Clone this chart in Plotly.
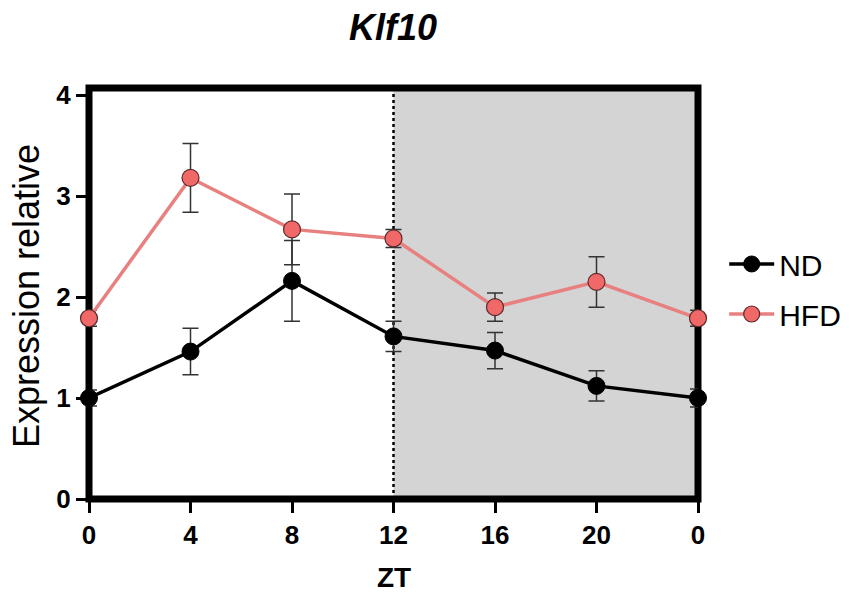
import plotly.graph_objects as go

# ZT time points (last one is ZT24 shown as "0")
zt = [0, 4, 8, 12, 16, 20, 24]
tick_labels = ["0", "4", "8", "12", "16", "20", "0"]

nd_mean = [1.00, 1.46, 2.16, 1.61, 1.47, 1.12, 1.00]
nd_err = [0.08, 0.23, 0.40, 0.15, 0.18, 0.15, 0.09]

hfd_mean = [1.79, 3.18, 2.67, 2.58, 1.90, 2.15, 1.79]
hfd_err = [0.08, 0.34, 0.35, 0.09, 0.14, 0.25, 0.08]

FONT = "Liberation Sans, Arial, sans-serif"

fig = go.Figure()

# dark phase shading, dotted line at ZT12 and the thick frame
fig.add_shape(type="rect", xref="x", yref="paper", x0=12, x1=24, y0=0, y1=1,
              fillcolor="#d4d4d4", line_width=0, layer="below")
fig.add_shape(type="line", xref="x", yref="paper", x0=12, x1=12, y0=0, y1=1,
              line=dict(color="black", width=2.5, dash="dot"), layer="below")
fig.add_shape(type="rect", xref="paper", yref="paper", x0=0, x1=1, y0=0, y1=1,
              line=dict(color="black", width=7), fillcolor="rgba(0,0,0,0)", layer="below")

fig.add_trace(go.Scatter(
    x=zt, y=nd_mean, name="ND", mode="lines+markers", legendgroup="nd",
    line=dict(color="black", width=3.5),
    marker=dict(size=17, color="black", line=dict(color="black", width=1)),
    error_y=dict(type="data", array=nd_err, color="#333333", thickness=1.5, width=8),
    cliponaxis=False,
))
fig.add_trace(go.Scatter(
    x=zt, y=hfd_mean, name="HFD", mode="lines+markers", legendgroup="hfd",
    line=dict(color="#e88080", width=3.5),
    marker=dict(size=17, color="#f06868", line=dict(color="#5a2a2a", width=1.2)),
    error_y=dict(type="data", array=hfd_err, color="#333333", thickness=1.5, width=8),
    cliponaxis=False,
))

# axis titles placed as annotations for exact positioning
fig.add_annotation(text="Expression relative", xref="paper", yref="paper",
                   x=(26 - 89) / 609, y=(499 - 296) / 411, textangle=-90,
                   showarrow=False, xanchor="center", yanchor="middle",
                   font=dict(family=FONT, size=36, color="black"))
fig.add_annotation(text="<b>ZT</b>", xref="paper", yref="paper",
                   x=0.5, y=(499 - 577) / 411,
                   showarrow=False, xanchor="center", yanchor="middle",
                   font=dict(family=FONT, size=28, color="black"))

fig.update_layout(
    width=864, height=598,
    margin=dict(l=89, r=166, t=88, b=99),
    plot_bgcolor="white", paper_bgcolor="white",
    title=dict(text="<b><i>Klf10</i></b>", x=393 / 864, xanchor="center",
               y=1 - 27 / 598, yanchor="middle",
               font=dict(family=FONT, size=36, color="black")),
    legend=dict(x=1.043, y=0.511, xanchor="left", yanchor="middle",
                traceorder="grouped", tracegroupgap=8,
                font=dict(family=FONT, size=30, color="black"),
                itemwidth=45, bgcolor="rgba(0,0,0,0)"),
    showlegend=True,
)

fig.update_xaxes(
    range=[0, 24], tickvals=zt, ticktext=tick_labels,
    showline=False, automargin=False,
    ticks="outside", ticklen=13, tickwidth=3, tickcolor="black",
    showgrid=False, zeroline=False,
    tickfont=dict(family=FONT, size=26, color="black", weight="bold"),
)
fig.update_yaxes(
    range=[0, 4.07], tickvals=[0, 1, 2, 3, 4],
    showline=False, automargin=False,
    ticks="outside", ticklen=12, tickwidth=3, tickcolor="black",
    showgrid=False, zeroline=False,
    tickfont=dict(family=FONT, size=26, color="black", weight="bold"),
)

fig.write_html("out.html", config={"displayModeBar": False},
               post_script="document.body.style.margin='0px';")
